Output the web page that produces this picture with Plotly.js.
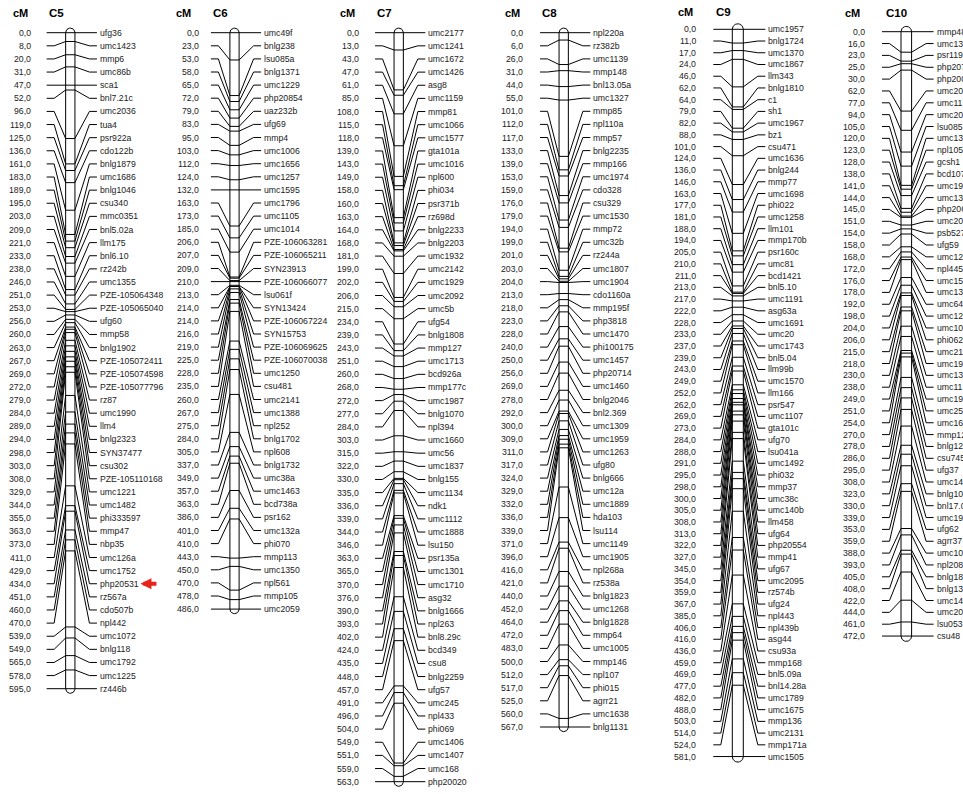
<!DOCTYPE html>
<html><head><meta charset="utf-8">
<script src="https://cdn.plot.ly/plotly-3.0.1.min.js"></script>
<style>html,body{margin:0;padding:0;background:#fff;overflow:hidden}</style>
</head><body><div id="chart" style="width:963px;height:794px"></div>
<script>
// ---------------- DATA ----------------
const C5_cM = [0,8,20,31,47,52,96,119,125,136,161,183,189,195,203,209,221,233,238,246,251,253,256,260,263,267,269,272,279,284,289,294,298,303,308,329,344,355,363,373,411,429,434,451,460,470,539,549,565,578,595];
const C5_markers = ["ufg36","umc1423","mmp6","umc86b","sca1","bnl7.21c","umc2036","tua4","psr922a","cdo122b","bnlg1879","umc1686","bnlg1046","csu340","mmc0351","bnl5.02a","llm175","bnl6.10","rz242b","umc1355","PZE-105064348","PZE-105065040","ufg60","mmp58","bnlg1902","PZE-105072411","PZE-105074598","PZE-105077796","rz87","umc1990","llm4","bnlg2323","SYN37477","csu302","PZE-105110168","umc1221","umc1482","phi333597","mmp47","nbp35","umc126a","umc1752","php20531","rz567a","cdo507b","npl442","umc1072","bnlg118","umc1792","umc1225","rz446b"];

const C6_cM = [0,23,53,58,65,72,79,83,95,103,112,124,132,163,173,185,206,207,209,210,213,214,214,216,219,225,228,235,260,267,275,284,305,337,349,357,363,386,401,410,443,450,470,478,486];
const C6_markers = ["umc49f","bnlg238","lsu085a","bnlg1371","umc1229","php20854","uaz232b","ufg69","mmp4","umc1006","umc1656","umc1257","umc1595","umc1796","umc1105","umc1014","PZE-106063281","PZE-106065211","SYN23913","PZE-106066077","lsu061f","SYN13424","PZE-106067224","SYN15753","PZE-106069625","PZE-106070038","umc1250","csu481","umc2141","umc1388","npl252","bnlg1702","npl608","bnlg1732","umc38a","umc1463","bcd738a","psr162","umc132a","phi070","mmp113","umc1350","npl561","mmp105","umc2059"];

const C7_cM = [0,13,43,47,61,85,108,115,118,139,143,149,158,160,163,164,168,181,199,202,206,215,234,239,243,251,260,268,272,277,284,303,315,322,330,335,336,339,344,346,363,365,370,376,390,393,402,424,435,448,457,491,496,504,549,551,559,563];
const C7_markers = ["umc2177","umc1241","umc1672","umc1426","asg8","umc1159","mmp81","umc1066","umc1577","gta101a","umc1016","npl600","phi034","psr371b","rz698d","bnlg2233","bnlg2203","umc1932","umc2142","umc1929","umc2092","umc5b","ufg54","bnlg1808","mmp127","umc1713","bcd926a","mmp177c","umc1987","bnlg1070","npl394","umc1660","umc56","umc1837","bnlg155","umc1134","ndk1","umc1112","umc1888","lsu150","psr135a","umc1301","umc1710","asg32","bnlg1666","npl263","bnl8.29c","bcd349","csu8","bnlg2259","ufg57","umc245","npl433","phi069","umc1406","umc1407","umc168","php20020"];

const C8_cM = [0,6,26,31,44,55,101,112,117,133,139,153,159,176,179,194,199,201,203,204,213,218,223,228,240,250,256,269,278,292,300,309,311,317,324,329,332,336,339,371,396,416,421,440,452,464,472,483,500,512,517,525,560,567];
const C8_markers = ["npl220a","rz382b","umc1139","mmp148","bnl13.05a","umc1327","mmp85","npl110a","mmp57","bnlg2235","mmp166","umc1974","cdo328","csu329","umc1530","mmp72","umc32b","rz244a","umc1807","umc1904","cdo1160a","mmp195f","php3818","umc1470","phi100175","umc1457","php20714","umc1460","bnlg2046","bnl2.369","umc1309","umc1959","umc1263","ufg80","bnlg666","umc12a","umc1889","hda103","lsu114","umc1149","umc1905","npl268a","rz538a","bnlg1823","umc1268","bnlg1828","mmp64","umc1005","mmp146","npl107","phi015","agrr21","umc1638","bnlg1131"];

const C9_cM = [0,11,17,24,46,62,64,79,82,88,101,124,136,146,163,177,181,188,194,205,210,211,213,217,222,228,233,237,239,243,249,252,262,269,273,284,288,291,295,298,300,305,308,313,322,327,345,354,359,367,385,406,416,436,459,469,477,482,488,503,514,524,581];
const C9_markers = ["umc1957","bnlg1724","umc1370","umc1867","llm343","bnlg1810","c1","sh1","umc1967","bz1","csu471","umc1636","bnlg244","mmp77","umc1698","phi022","umc1258","llm101","mmp170b","psr160c","umc81","bcd1421","bnl5.10","umc1191","asg63a","umc1691","umc20","umc1743","bnl5.04","llm99b","umc1570","llm166","psr547","umc1107","gta101c","ufg70","lsu041a","umc1492","phi032","mmp37","umc38c","umc140b","llm458","ufg64","php20554","mmp41","ufg67","umc2095","rz574b","ufg24","npl443","npl439b","asg44","csu93a","mmp168","bnl5.09a","bnl14.28a","umc1789","umc1675","mmp136","umc2131","mmp171a","umc1505"];

const C10_cM = [0,16,23,25,30,62,77,94,105,120,123,128,138,141,144,145,151,154,158,168,172,176,178,192,198,204,206,215,218,230,238,249,251,254,270,278,286,295,308,323,330,339,353,359,388,393,405,408,422,444,461,472];
const C10_markers = ["mmp48","umc13","psr119","php207","php200","umc20","umc11","umc20","lsu085","umc13","npl105","gcsh1","bcd107","umc19","umc13","php206","umc20","psb527","ufg59","umc12","npl445","umc15","umc13","umc64","umc12","umc10","phi062","umc21","umc19","umc13","umc11","umc19","umc25","umc16","mmp12","bnlg12","csu745","ufg37","umc14","bnlg10","bnl17.0","umc19","ufg62","agrr37","umc10","npl208","bnlg18","bnlg13","umc14","umc20","lsu053","csu48"];

const chromNames = ["C5","C6","C7","C8","C9","C10"];
const unitLabel = "cM";
const highlightMarker = "php20531";

// ---------------- LAYOUT GEOMETRY (pixels) ----------------
const geom = {
  C5:  {cm:C5_cM,  mk:C5_markers,  cmX:31.7,  cx:70.3,  hw:4.65, y0:32.7, dy:13.12, hCM:20.8,  hC:56.7,  hY:13.3},
  C6:  {cm:C6_cM,  mk:C6_markers,  cmX:199.3, cx:234.5, hw:4.6,  y0:32.7, dy:13.1,  hCM:183.3, hC:220.8, hY:13.3},
  C7:  {cm:C7_cM,  mk:C7_markers,  cmX:359.3, cx:398.7, hw:4.65, y0:32.7, dy:13.14, hCM:347.8, hC:384.5, hY:13.3},
  C8:  {cm:C8_cM,  mk:C8_markers,  cmX:523.3, cx:563.7, hw:4.65, y0:32.7, dy:13.1,  hCM:512.5, hC:549.2, hY:13.3},
  C9:  {cm:C9_cM,  mk:C9_markers,  cmX:696,   cx:737.8, hw:5.5,  y0:29.3, dy:11.73, hCM:685,   hC:723.8, hY:12},
  C10: {cm:C10_cM, mk:C10_markers, cmX:865,   cx:906.3, hw:5.3,  y0:31.7, dy:11.85, hCM:852.5, hC:896,   hY:13.3}
};

const FAM = "Liberation Sans, Arial, sans-serif";
const TXT = "#222";
const fmt = v => v.toFixed(1).replace('.', ',');

const traces = [];
const annotations = [];

chromNames.forEach(name => {
  const g = geom[name];
  const n = g.cm.length;
  const maxCM = g.cm[n - 1];
  const span = (n - 1) * g.dy;
  const sc = span / maxCM;
  const yEnd = g.y0 + maxCM * sc;
  const L = g.cx - g.hw, R = g.cx + g.hw;
  const xs = [], ys = [];
  // bar sides
  xs.push(L, L, null, R, R, null);
  ys.push(g.y0, yEnd, null, g.y0, yEnd, null);
  // caps
  for (let k = 0; k <= 20; k++) {
    const t = Math.PI * k / 20;
    xs.push(g.cx - g.hw * Math.cos(t));
    ys.push(g.y0 - g.hw * Math.sin(t));
  }
  xs.push(null); ys.push(null);
  for (let k = 0; k <= 20; k++) {
    const t = Math.PI * k / 20;
    xs.push(g.cx - g.hw * Math.cos(t));
    ys.push(yEnd + g.hw * Math.sin(t));
  }
  xs.push(null); ys.push(null);
  // markers
  g.cm.forEach((v, i) => {
    const rowY = g.y0 + i * g.dy;
    const cY = g.y0 + v * sc;
    xs.push(g.cx - g.hw - 19, g.cx - g.hw - 11.5, L, R, g.cx + g.hw + 14.5, g.cx + g.hw + 22, null);
    ys.push(rowY, rowY, cY, cY, rowY, rowY, null);
    annotations.push({x: g.cmX + 1.5, y: rowY, xref:'x', yref:'y', text: fmt(v), showarrow:false,
      xanchor:'right', yanchor:'middle', font:{family:FAM, size:8.7, color:TXT}});
    annotations.push({x: g.cx + g.hw + 23, y: rowY, xref:'x', yref:'y', text: g.mk[i], showarrow:false,
      xanchor:'left', yanchor:'middle', font:{family:FAM, size:8.7, color:TXT}});
    if (g.mk[i] === highlightMarker) {
      annotations.push({x: g.cx + g.hw + 65.5, y: rowY, xref:'x', yref:'y', text:' ', showarrow:true,
        ax: 19, ay: 0, arrowcolor:'#e8241a', arrowwidth:4, arrowhead:2, arrowsize:0.55, standoff:0});
    }
  });
  traces.push({x: xs, y: ys, mode:'lines', type:'scatter', hoverinfo:'skip',
    line:{color:'#000', width:1}, showlegend:false});
  annotations.push({x: g.hCM, y: g.hY, xref:'x', yref:'y', text:'<b>' + unitLabel + '</b>', showarrow:false,
    xanchor:'center', yanchor:'middle', font:{family:FAM, size:11, color:'#000'}});
  annotations.push({x: g.hC, y: g.hY, xref:'x', yref:'y', text:'<b>' + name + '</b>', showarrow:false,
    xanchor:'center', yanchor:'middle', font:{family:FAM, size:11.5, color:'#000'}});
});

const layout = {
  width: 963, height: 794,
  margin: {l:0, r:0, t:0, b:0, pad:0},
  paper_bgcolor:'#fff', plot_bgcolor:'#fff',
  xaxis: {range:[0,963], visible:false, fixedrange:true},
  yaxis: {range:[794,0], visible:false, fixedrange:true},
  showlegend:false,
  annotations: annotations
};

Plotly.newPlot('chart', traces, layout, {staticPlot:true, displayModeBar:false});
</script></body></html>
